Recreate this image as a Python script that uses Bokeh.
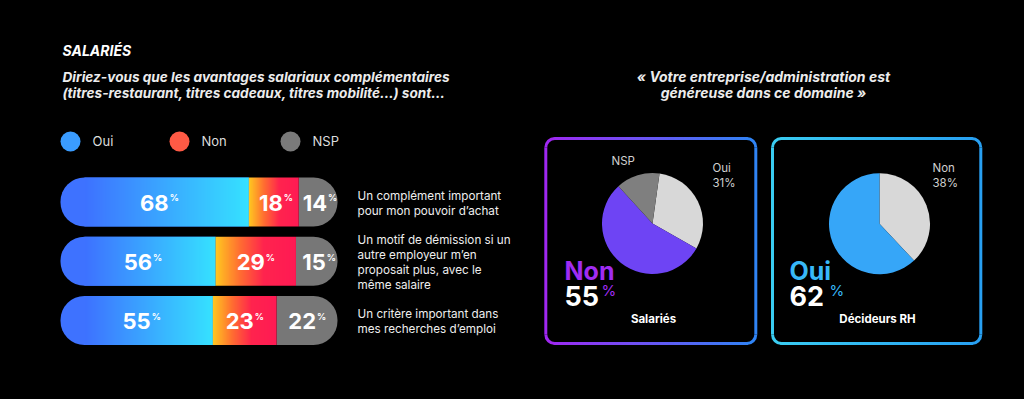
import numpy as np
from jinja2 import Template
from bokeh.plotting import figure
from bokeh.models import Range1d, ColumnDataSource
from bokeh.core.properties import value
from bokeh.embed import file_html
from bokeh.resources import INLINE

# ---------------- data ----------------
section_title = "SALARIÉS"
question = ["Diriez-vous que les avantages salariaux complémentaires",
            "(titres-restaurant, titres cadeaux, titres mobilité…) sont…"]
legend_labels = ["Oui", "Non", "NSP"]
statements = [
    ["Un complément important", "pour mon pouvoir d’achat"],
    ["Un motif de démission si un", "autre employeur m’en", "proposait plus, avec le", "même salaire"],
    ["Un critère important dans", "mes recherches d’emploi"],
]
oui = [68, 56, 55]
non = [18, 29, 23]
nsp = [14, 15, 22]

right_title = ["« Votre entreprise/administration est", "généreuse dans ce domaine »"]
sal_labels = ["Oui", "Non", "NSP"]
sal_values = [31, 55, 14]
rh_labels = ["Non", "Oui"]
rh_values = [38, 62]
panel_names = ["Salariés", "Décideurs RH"]

# ---------------- layout helpers ----------------
W, H = 1024, 399
FONT = value("Inter")
K = 0.4  # baseline correction factor (em)


def X(px):
    return px


def Y(py):
    return H - py


def rgb_hex(c):
    return "#%02x%02x%02x" % tuple(int(round(v)) for v in c)


def mix(c0, c1, t):
    return tuple(a + (b - a) * t for a, b in zip(c0, c1))


def gradient_img(stops, n=256):
    t = np.linspace(0, 1, n)
    arr = np.zeros((1, n, 4), dtype=np.uint8)
    pos = [s[0] for s in stops]
    for ch in range(3):
        arr[0, :, ch] = np.interp(t, pos, [s[1][ch] for s in stops]).astype(np.uint8)
    arr[..., 3] = 255
    return arr.view(np.uint32).reshape(1, n)


p = figure(width=W, height=H, x_range=Range1d(0, W), y_range=Range1d(0, H),
           output_backend="svg", toolbar_location=None, min_border=0,
           x_axis_location=None, y_axis_location=None,
           background_fill_color="black", border_fill_color="black",
           outline_line_color=None)
p.grid.visible = False


def txt(x, py, s, size, color="#ffffff", style="normal", align="left"):
    p.text(x=[x], y=[Y(py) + K * size], text=[s], text_font=FONT,
           text_font_size=f"{size}px", text_color=color, text_font_style=style,
           text_align=align, text_baseline="alphabetic")


# ---------------- titles ----------------
txt(X(62), 56, section_title, 14, "#ffffff", "bold italic")
txt(X(62), 81.5, question[0], 13.6, "#ececec", "bold italic")
txt(X(62), 98, question[1], 13.6, "#ececec", "bold italic")

txt(X(763), 81.5, right_title[0], 14, "#ececec", "bold italic", align="center")
txt(X(763), 98, right_title[1], 14, "#ececec", "bold italic", align="center")

# ---------------- legend ----------------
legend_colors = ["#3a9cff", "#ff5a45", "#7a7a7a"]
legend_x = [70, 179, 290]
p.scatter(x=[X(v) for v in legend_x], y=[Y(141)] * 3, marker="circle", size=20,
          fill_color=legend_colors, line_color=None)
for lx, lab in zip(legend_x, legend_labels):
    txt(X(lx + 22), 146, lab, 13, "#dddddd")

# ---------------- stacked bars ----------------
BAR_L, BAR_R = 60, 337
s = (BAR_R - BAR_L) / 100.0
p.extra_x_ranges["pct"] = Range1d(-X(BAR_L) / s, (W - X(BAR_L)) / s)

ROW0, STEP, BAR_H, RAD = 201.5, 59.25, 49, 24
rows_y = [Y(ROW0 + i * STEP) for i in range(len(oui))]
non_end = [a + b for a, b in zip(oui, non)]
tot_end = [a + b for a, b in zip(non_end, nsp)]
src = ColumnDataSource(dict(y=rows_y, oui=oui, non_end=non_end, tot_end=tot_end))

BLUE0, BLUE1 = (62, 114, 255), (54, 226, 255)
blue_img = gradient_img([(0, BLUE0), (1, BLUE1)])
red_img = gradient_img([(0, (255, 200, 32)), (0.3, (255, 110, 50)),
                        (0.6, (255, 36, 78)), (1, (255, 26, 84))])

p.hbar(y="y", left=0, right="oui", height=BAR_H, fill_color=rgb_hex(BLUE0),
       line_color=None, border_radius=(RAD, 0, 0, RAD), source=src, x_range_name="pct")
p.hbar(y="y", left="non_end", right="tot_end", height=BAR_H, fill_color="#777777",
       line_color=None, border_radius=(0, RAD, RAD, 0), source=src, x_range_name="pct")
r_pct = RAD / s
n = len(oui)
p.image_rgba(image=[blue_img] * n, x=[r_pct] * n, y=[v - BAR_H / 2 for v in rows_y],
             dw=[o - r_pct for o in oui], dh=[BAR_H] * n, x_range_name="pct")
p.image_rgba(image=[red_img] * n, x=oui, y=[v - BAR_H / 2 for v in rows_y],
             dw=non, dh=[BAR_H] * n, x_range_name="pct")

NUM_FS, PCT_FS = 22, 9
seg_sets = [
    ([o / 2 for o in oui], oui, 14),
    ([o + b / 2 for o, b in zip(oui, non)], non, 9),
    ([e + c / 2 for e, c in zip(non_end, nsp)], nsp, 9),
]
for centers, vals, off in seg_sets:
    p.text(x=centers, y=[v - 9.5 + K * NUM_FS for v in rows_y], text=[str(v) for v in vals],
           text_font=FONT, text_font_size=f"{NUM_FS}px", text_font_style="bold",
           text_color="white", text_align="right", text_baseline="alphabetic",
           x_offset=off, x_range_name="pct")
    p.text(x=centers, y=[v + 0.5 + K * PCT_FS for v in rows_y], text=["%"] * len(vals),
           text_font=FONT, text_font_size=f"{PCT_FS}px", text_font_style="bold",
           text_color="white", text_align="left", text_baseline="alphabetic",
           x_offset=off + 1, x_range_name="pct")

# statements
for i, lines in enumerate(statements):
    first = ROW0 + i * STEP + 6 - (len(lines) - 1) * 15 / 2
    for j, line in enumerate(lines):
        txt(X(357), first + j * 15, line, 11.7, "#eeeeee")

# ---------------- boxes ----------------
def grad_box(x0, x1, y0, y1, cl, cr, r=9, lw=3, n=40):
    xs = np.linspace(x0 + r, x1 - r, n + 1)
    mids = (xs[:-1] + xs[1:]) / 2
    cols = [rgb_hex(mix(cl, cr, (m - x0) / (x1 - x0))) for m in mids]
    for yy in (y0, y1):
        p.segment(x0=xs[:-1], y0=[yy] * n, x1=xs[1:], y1=[yy] * n,
                  line_color=cols, line_width=lw, line_cap="round")
    p.segment(x0=[x0, x1], y0=[y0 + r, y0 + r], x1=[x0, x1], y1=[y1 - r, y1 - r],
              line_color=[rgb_hex(cl), rgb_hex(cr)], line_width=lw)
    p.arc(x=[x0 + r, x1 - r, x1 - r, x0 + r], y=[y1 - r, y1 - r, y0 + r, y0 + r],
          radius=r, start_angle=[np.pi / 2, 0, -np.pi / 2, np.pi],
          end_angle=[np.pi, np.pi / 2, 0, 1.5 * np.pi],
          line_color=[rgb_hex(cl), rgb_hex(cr), rgb_hex(cr), rgb_hex(cl)], line_width=lw)


grad_box(X(545.3), X(755.3), Y(343), Y(138), (160, 40, 242), (48, 132, 245))
grad_box(X(772), X(980.3), Y(343), Y(138), (58, 205, 242), (40, 160, 242))

# ---------------- pies ----------------
def pie(cx, cy, vals, colors, start_deg, r=50.5):
    v = np.array(vals, dtype=float)
    cum = np.concatenate([[0], np.cumsum(v)]) / v.sum() * 360 + start_deg
    p.wedge(x=[cx] * len(v), y=[cy] * len(v), radius=r, radius_units="screen",
            start_angle=np.pi / 2 - np.radians(cum[:-1]),
            end_angle=np.pi / 2 - np.radians(cum[1:]), direction="clock",
            fill_color=colors, line_color=None)


pie(X(652), Y(223), sal_values, ["#d8d8d8", "#6e44f4", "#7f7f7f"], 8)
pie(X(879), Y(223.3), rh_values, ["#d8d8d8", "#36a6f8"], 0)

# pie labels
sal = dict(zip(sal_labels, sal_values))
rh = dict(zip(rh_labels, rh_values))
txt(X(611), 165, "NSP", 11.5, "#d0d0d0")
txt(X(712), 172.5, "Oui", 11.5, "#d0d0d0")
txt(X(712), 187, f"{sal['Oui']}%", 11.5, "#d0d0d0")
txt(X(932), 172.5, "Non", 11.5, "#d0d0d0")
txt(X(932), 187, f"{rh['Non']}%", 11.5, "#d0d0d0")

# headline figures
PURPLE, CYAN = "#a02cf2", "#38b8f8"
txt(X(564), 280, "Non", 25, PURPLE, "bold")
txt(X(564), 306, str(sal["Non"]), 27, "white", "bold")
txt(X(601), 296, "%", 15, PURPLE)
txt(X(653), 323, panel_names[0], 11.5, "white", "bold", align="center")

txt(X(789), 280, "Oui", 25, CYAN, "bold")
txt(X(789), 306, str(rh["Oui"]), 27, "white", "bold")
txt(X(829), 296, "%", 15, CYAN)
txt(X(877), 323, panel_names[1], 11.5, "white", "bold", align="center")

tmpl = Template("""{% extends base %}
{% block preamble %}<style>html, body { background-color: #000000; }</style>{% endblock %}""")
open("out.html", "w").write(file_html(p, INLINE, template=tmpl))
